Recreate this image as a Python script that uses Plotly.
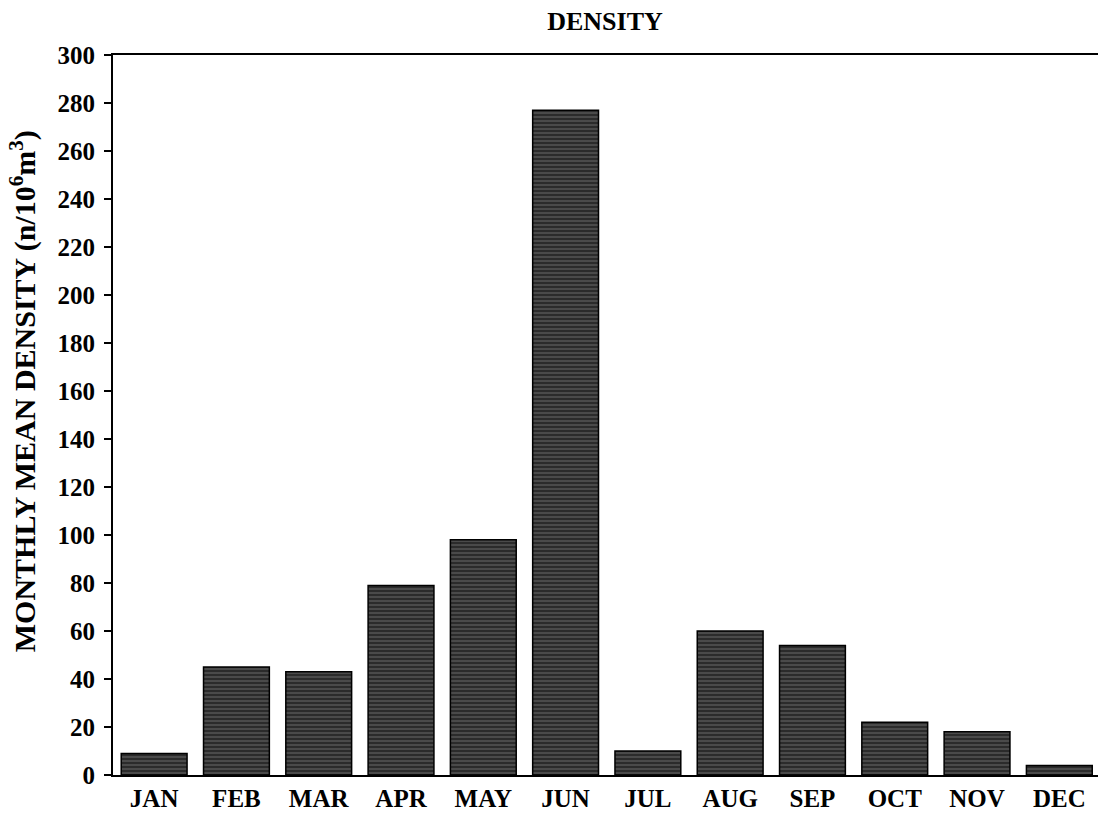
import plotly.graph_objects as go

months = ["JAN", "FEB", "MAR", "APR", "MAY", "JUN", "JUL", "AUG", "SEP", "OCT", "NOV", "DEC"]
density = [9, 45, 43, 79, 98, 277, 10, 60, 54, 22, 18, 4]
y_ticks = list(range(0, 301, 20))
y_title = "MONTHLY MEAN DENSITY (n/10<sup>6</sup>m<sup>3</sup>)"

fig = go.Figure()
fig.add_trace(go.Bar(
    x=months,
    y=density,
    width=0.8,
    marker=dict(
        color="#2b2b2b",
        line=dict(color="#000000", width=1.5),
        pattern=dict(shape="-", fgcolor="#a8a8a8", bgcolor="#2b2b2b", size=4, solidity=0.25),
    ),
))

font_family = "Liberation Serif, Times New Roman, serif"

fig.update_layout(
    width=1098, height=821,
    margin=dict(l=113, r=0, t=55, b=46),
    paper_bgcolor="white", plot_bgcolor="white",
    showlegend=False,
    bargap=0.2,
    title=dict(text="DENSITY", x=0.551, xanchor="center", y=0.975, yanchor="middle",
               font=dict(family=font_family, size=26, color="black", weight="bold")),
    font=dict(family=font_family, color="black"),
    xaxis=dict(
        range=[-0.5, 11.47],
        showline=True, linecolor="black", linewidth=2, mirror=True,
        ticks="", showgrid=False,
        tickfont=dict(family=font_family, size=25, color="black", weight="bold"),
    ),
    yaxis=dict(
        range=[0, 300],
        tickvals=y_ticks,
        showline=True, linecolor="black", linewidth=2,
        ticks="outside", ticklen=7, tickwidth=1.5, tickcolor="black",
        ticklabelstandoff=4,
        showgrid=False, zeroline=False,
        tickfont=dict(family=font_family, size=25, color="black", weight="bold"),
    ),
    annotations=[dict(
        text=y_title, textangle=-90, showarrow=False,
        xref="paper", yref="paper", x=-0.0914, y=0.533,
        xanchor="center", yanchor="middle",
        font=dict(family=font_family, size=30, color="black", weight="bold"),
    )],
)

fig.write_html(
    "out.html",
    config={"displayModeBar": False},
    post_script="document.body.style.margin='0';document.body.style.overflow='hidden';",
)
